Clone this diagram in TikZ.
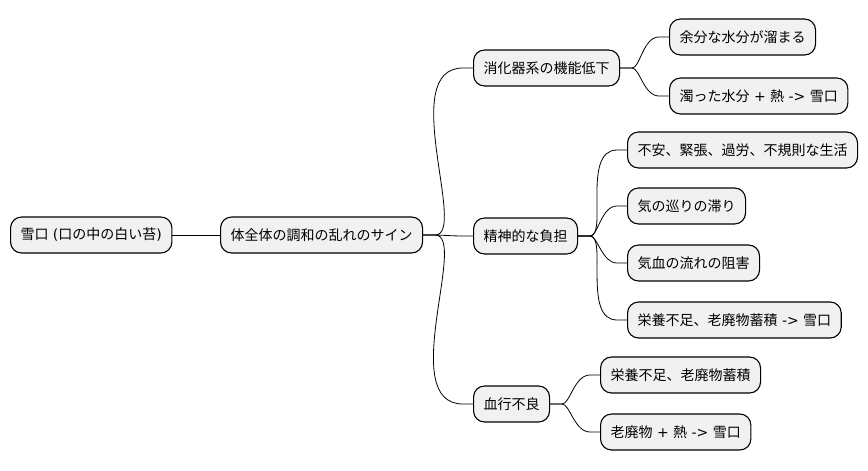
\documentclass[tikz,border=0pt]{standalone}
\usepackage{fontspec}
\setmainfont{Noto Sans CJK JP}
\newfontfamily\latfont{DejaVu Sans}
\newcommand\lt[1]{{\latfont #1}}
\usetikzlibrary{calc}
\definecolor{boxgray}{HTML}{F1F1F1}
\newcommand\branchlink[2]{\draw[link] (#1.east) -- ++(12,0) to[out=0,in=180,out looseness=0.5,in looseness=1] ($(#2.west)+(-10,0)$) -- (#2.west);}
\begin{document}
\begin{tikzpicture}[x=1pt,y=-1pt,
 box/.style={draw=black, line width=1.1pt, fill=boxgray, rounded corners=11pt, anchor=west, minimum height=36pt, inner xsep=10pt, inner ysep=0pt, font=\fontsize{14}{16}\selectfont},
 link/.style={black, line width=0.8pt}]
\useasboundingbox (0,0) rectangle (868,471);
\node[box] (root) at (10,235) {雪口\lt{ (}口の中の白い苔\lt{)}};
\node[box] (sign) at (220,235) {体全体の調和の乱れのサイン};
\node[box] (dig) at (473,68) {消化器系の機能低下};
\node[box] (d1) at (669,37) {余分な水分が溜まる};
\node[box] (d2) at (669,96) {濁った水分\lt{ + }熱\lt{ -> }雪口};
\node[box] (men) at (473,236) {精神的な負担};
\node[box] (m1) at (627,150) {不安、緊張、過労、不規則な生活};
\node[box] (m2) at (627,206) {気の巡りの滞り};
\node[box] (m3) at (627,263) {気血の流れの阻害};
\node[box] (m4) at (627,320) {栄養不足、老廃物蓄積\lt{ -> }雪口};
\node[box] (blood) at (473,404) {血行不良};
\node[box] (b1) at (600,375) {栄養不足、老廃物蓄積};
\node[box] (b2) at (600,432) {老廃物\lt{ + }熱\lt{ -> }雪口};
\draw[link] (root.east) -- (sign.west);
\branchlink{sign}{dig}
\branchlink{sign}{men}
\branchlink{sign}{blood}
\branchlink{dig}{d1}
\branchlink{dig}{d2}
\branchlink{men}{m1}
\branchlink{men}{m2}
\branchlink{men}{m3}
\branchlink{men}{m4}
\branchlink{blood}{b1}
\branchlink{blood}{b2}
\end{tikzpicture}
\end{document}
